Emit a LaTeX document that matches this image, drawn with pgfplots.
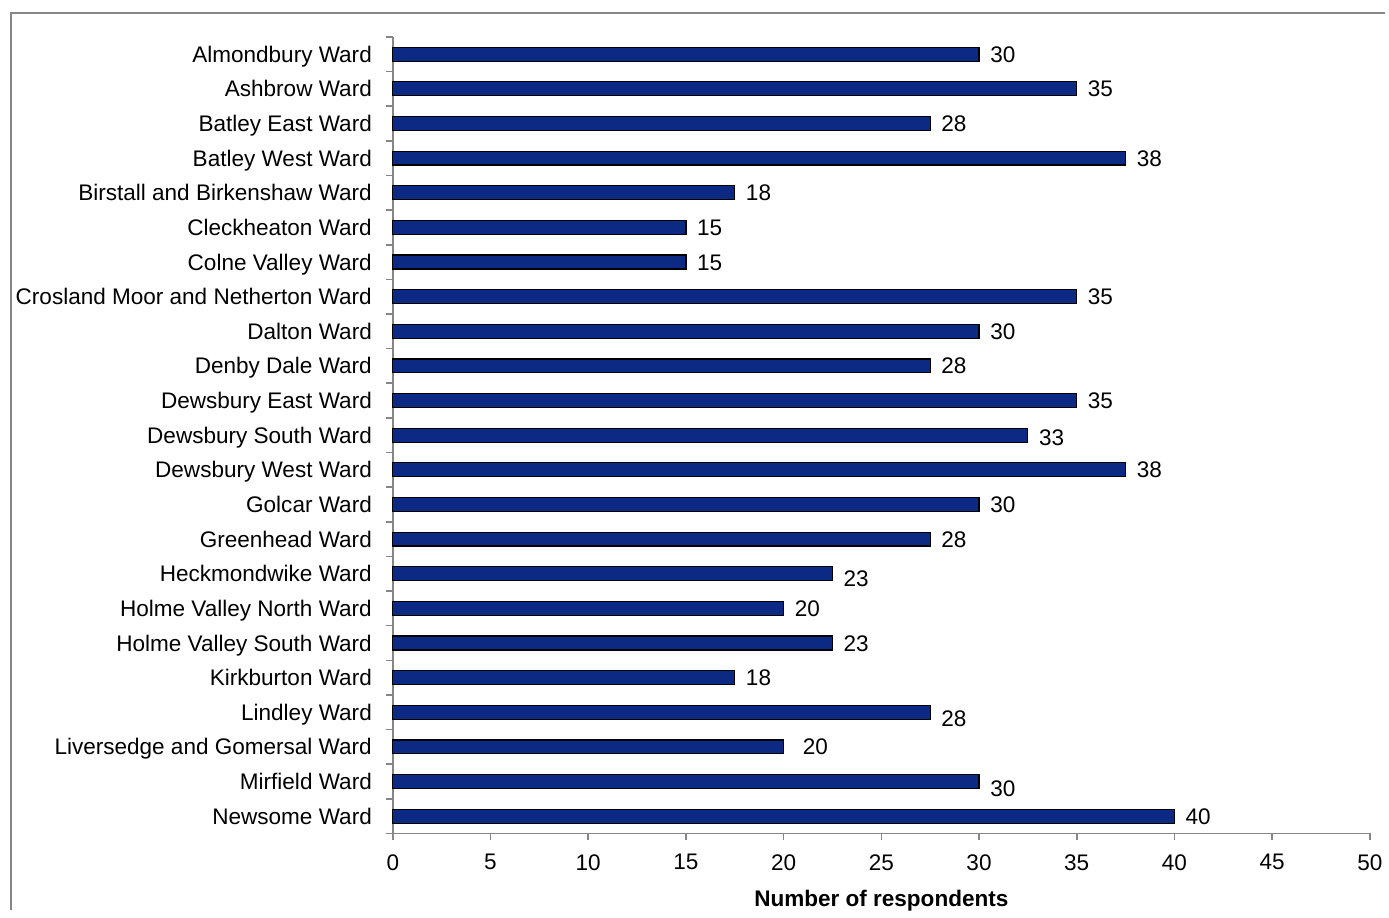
\documentclass[border=0pt]{standalone}
\usepackage{pgfplots}
\usepackage{pgfplotstable}
\pgfplotsset{compat=1.18}
\usepackage{fontspec}
\setmainfont{Liberation Sans}
\definecolor{barblue}{RGB}{12,42,132}
\definecolor{axgray}{RGB}{134,134,134}
\pgfplotstableread{
y x lab dx dy
0 30 30 0 0
1 35 35 0 0
2 27.5 28 0 0
3 37.5 38 0 0
4 17.5 18 0 0
5 15 15 0 0
6 15 15 0 0
7 35 35 0 0
8 30 30 0 0
9 27.5 28 0 0
10 35 35 0 0
11 32.5 33 0 -1
12 37.5 38 0 0
13 30 30 0 0
14 27.5 28 0 0
15 22.5 23 0 -2.5
16 20 20 0 0
17 22.5 23 0 0
18 17.5 18 0 0
19 27.5 28 0 -3
20 20 20 4 0
21 30 30 0 -3.5
22 40 40 0 0
}\data
\begin{document}
\begin{tikzpicture}
\begin{axis}[
  at={(0,0)}, anchor=south west,
  scale only axis, width=490pt, height=399.5pt,
  xmin=0, xmax=50, ymin=-0.5, ymax=22.5,
  y dir=reverse,
  axis lines*=left,
  axis line style={draw=axgray, line width=0.8pt},
  xtick={0,5,...,50},
  ytick={0,...,22},
  yticklabels={Almondbury Ward, Ashbrow Ward, Batley East Ward, Batley West Ward, Birstall and Birkenshaw Ward, Cleckheaton Ward, Colne Valley Ward, Crosland Moor and Netherton Ward, Dalton Ward, Denby Dale Ward, Dewsbury East Ward, Dewsbury South Ward, Dewsbury West Ward, Golcar Ward, Greenhead Ward, Heckmondwike Ward, Holme Valley North Ward, Holme Valley South Ward, Kirkburton Ward, Lindley Ward, Liversedge and Gomersal Ward, Mirfield Ward, Newsome Ward},
  minor ytick={-0.5,0.5,...,22.5},
  major y tick style={draw=none},
  minor y tick style={draw=axgray, line width=0.8pt},
  x tick style={draw=axgray, line width=0.8pt},
  tick align=outside,
  major tick length=3.5pt, minor tick length=3.5pt,
  tick label style={font=\fontsize{11.3}{13}\selectfont, text=black},
  /pgf/number format/assume math mode=true,
  yticklabel style={xshift=-3.5pt, text height=8.1pt, text depth=0pt},
  xticklabel style={yshift=-3.5pt},
  xlabel={\textbf{Number of respondents}},
  xlabel style={font=\fontsize{11.3}{13}\selectfont\bfseries, yshift=-3pt},
  clip=false,
]
\addplot[xbar, fill=barblue, draw=black, line width=0.6pt, bar width=7pt,
  point meta=explicit symbolic,
  visualization depends on={\thisrow{dx} \as \dx},
  visualization depends on={\thisrow{dy} \as \dy},
  nodes near coords,
  nodes near coords style={font=\fontsize{11.3}{13}\selectfont, text=black, anchor=west, xshift=\dx pt+2pt, yshift=\dy pt, text height=8.1pt, text depth=0pt},
] table[x=x, y=y, meta=lab] {\data};
\end{axis}
\draw[axgray, line width=0.8pt] (-191.5pt,-38.5pt) -- (-191.5pt,411.5pt) -- (497.5pt,411.5pt);
\path[use as bounding box] (-197pt,-38.5pt) rectangle (497.5pt,418pt);
\end{tikzpicture}
\end{document}
